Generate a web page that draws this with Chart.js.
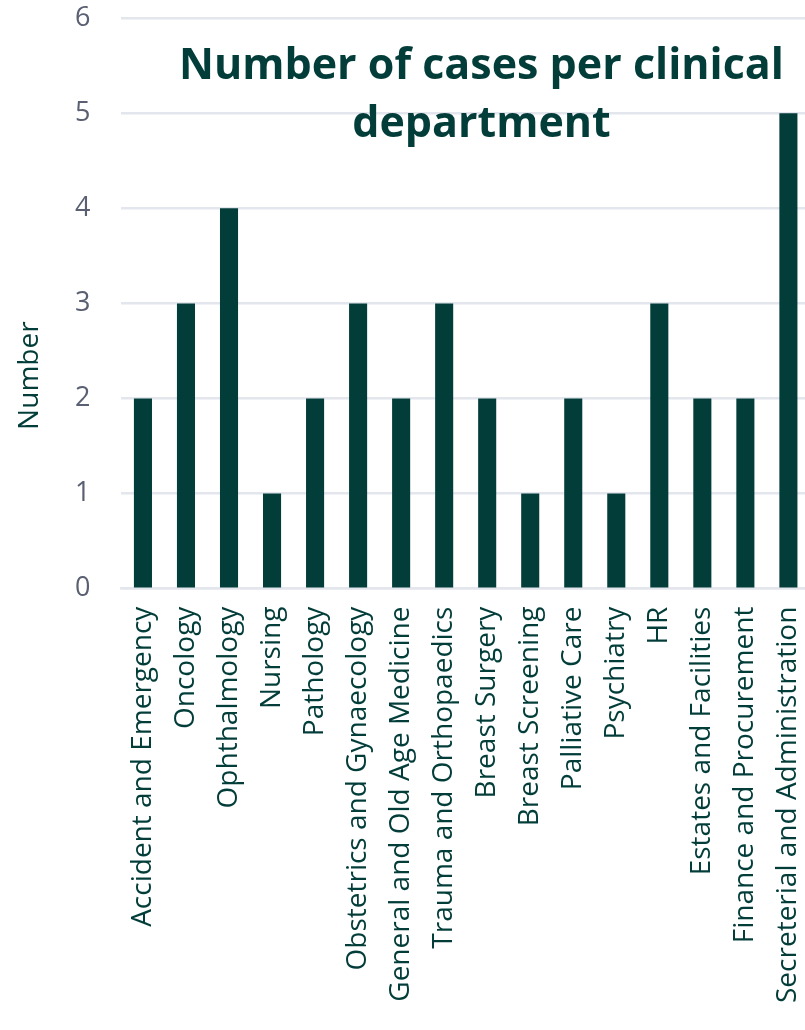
<!DOCTYPE html>
<html>
<head>
<meta charset="utf-8">
<script src="https://cdn.jsdelivr.net/npm/chart.js@4.4.1/dist/chart.umd.min.js"></script>
<style>
  html, body { margin: 0; padding: 0; background: #fff; overflow: hidden; }
  /* canvas pulled up so the top gridline sits near the page edge */
  #wrap { position: relative; top: -29px; width: 832px; height: 1059px; }
</style>
</head>
<body>
<div id="wrap"><canvas id="casesChart"></canvas></div>
<script>
// departments and case counts
const departments = [
  "Accident and Emergency", "Oncology", "Ophthalmology", "Nursing", "Pathology",
  "Obstetrics and Gynaecology", "General and Old Age Medicine", "Trauma and Orthopaedics",
  "Breast Surgery", "Breast Screening", "Palliative Care", "Psychiatry", "HR",
  "Estates and Facilities", "Finance and Procurement", "Secreterial and Administration"
];
const caseCounts = [2, 3, 4, 1, 2, 3, 2, 3, 2, 1, 2, 1, 3, 2, 2, 5];
const yTicks = [0, 1, 2, 3, 4, 5, 6];
const titleLines = ["Number of cases per clinical", "department"];
const yAxisTitle = "Number";

const darkGreen = "#023d39";
const tickGrey = "#5a6072";
const gridGrey = "#e3e6ed";

// chart title inside the plot area plus the y axis title, drawn by hand
const extraText = {
  id: "extraText",
  afterDraw(chart) {
    const c = chart.ctx;
    const area = chart.chartArea;
    c.save();
    c.fillStyle = darkGreen;
    c.font = "bold 43px 'Open Sans'";
    c.textAlign = "center";
    c.textBaseline = "alphabetic";
    const cx = area.left + 360;
    c.fillText(titleLines[0], cx, area.top + 61);
    c.fillText(titleLines[1], cx, area.top + 119);

    c.translate(30, area.bottom - 213);
    c.rotate(-Math.PI / 2);
    c.font = "28px 'Open Sans'";
    c.textBaseline = "middle";
    c.fillText(yAxisTitle, 0, 0);
    c.restore();
  }
};

const ctx = document.getElementById("casesChart").getContext("2d");
new Chart(ctx, {
  type: "bar",
  data: {
    labels: departments,
    datasets: [{
      label: "Cases",
      data: caseCounts,
      backgroundColor: darkGreen,
      barPercentage: 0.42,
      categoryPercentage: 1.0
    }]
  },
  options: {
    responsive: true,
    maintainAspectRatio: false,
    animation: false,
    layout: { padding: { top: 0, left: 44, right: 0, bottom: 17 } },
    scales: {
      y: {
        min: 0,
        max: 6,
        afterBuildTicks: (axis) => { axis.ticks = yTicks.map(v => ({ value: v })); },
        ticks: {
          color: tickGrey,
          padding: 31,
          font: { family: "'Open Sans'", size: 27 }
        },
        grid: { color: gridGrey, lineWidth: 2.5, drawTicks: false },
        border: { display: false }
      },
      x: {
        ticks: {
          color: darkGreen,
          minRotation: 90,
          maxRotation: 90,
          autoSkip: false,
          padding: 10,
          font: { family: "'Open Sans'", size: 28 }
        },
        grid: { display: false },
        border: { color: gridGrey, width: 2.5 }
      }
    },
    plugins: {
      legend: { display: false },
      tooltip: { enabled: false }
    }
  },
  plugins: [extraText]
});
</script>
</body>
</html>
